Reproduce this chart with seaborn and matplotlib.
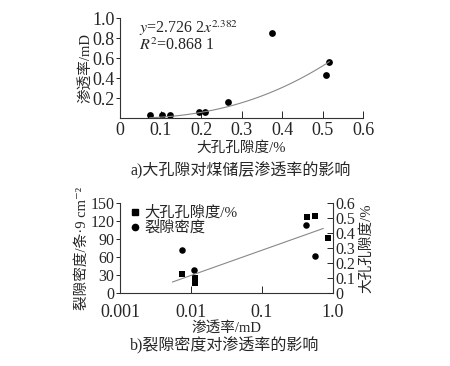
import numpy as np
import pandas as pd
import matplotlib
matplotlib.use("Agg")
import matplotlib.pyplot as plt
import seaborn as sns
from matplotlib.ticker import FixedLocator, FixedFormatter, NullLocator
from matplotlib.lines import Line2D

# ---------- data (a) ----------
macro_porosity_a = [0.073, 0.104, 0.123, 0.195, 0.211, 0.266, 0.376, 0.509, 0.517]
permeability_a = [0.036, 0.036, 0.036, 0.06, 0.06, 0.166, 0.85, 0.433, 0.56]
fit_a_coef = 2.7262
fit_a_exp = 2.382
eq_text = r"$y$=2.726 2$x^{2.382}$"
r2_text = r"$R^2$=0.868 1"

# ---------- data (b) ----------
perm_sq = [0.0074, 0.0114, 0.0114, 0.0114, 0.43, 0.56, 0.86]
porosity_sq = [0.125, 0.10, 0.085, 0.067, 0.505, 0.51, 0.367]
perm_ci = [0.0074, 0.0109, 0.42, 0.56]
density_ci = [72, 38, 113, 62]
trend_b_a = 0.453
trend_b_b = 0.168
trend_b_range = [0.00546, 0.73]

sns.set_theme(style="ticks")
plt.rcParams["font.family"] = ["Liberation Serif", "Noto Sans CJK SC", "DejaVu Serif"]
plt.rcParams["mathtext.fontset"] = "stix"
plt.rcParams["axes.linewidth"] = 0.8
plt.rcParams["axes.edgecolor"] = "#333333"

fs_tick = 13
fs_tick_b = 11.5
fs_lab = 10.5
fs_cap = 11.5

fig = plt.figure(figsize=(4.5, 3.66), dpi=100)

# ---------------- (a) ----------------
ax1 = fig.add_axes([0.2667, 0.6768, 0.54, 0.2732])
dfa = pd.DataFrame({"x": macro_porosity_a, "y": permeability_a})
xs = np.linspace(min(macro_porosity_a), max(macro_porosity_a), 100)
dfit = pd.DataFrame({"x": xs, "y": fit_a_coef * xs ** fit_a_exp})
sns.lineplot(data=dfit, x="x", y="y", ax=ax1, color="#888888", lw=0.8)
sns.scatterplot(data=dfa, x="x", y="y", ax=ax1, color="black", marker="o",
                s=24, edgecolor="black", linewidth=0)
ax1.set_xlim(0, 0.6)
ax1.set_ylim(0, 1.0)
ax1.set_xticks([0, 0.1, 0.2, 0.3, 0.4, 0.5, 0.6])
ax1.set_xticklabels(["0", "0.1", "0.2", "0.3", "0.4", "0.5", "0.6"])
ax1.set_yticks([0.2, 0.4, 0.6, 0.8, 1.0])
ax1.set_yticklabels(["0.2", "0.4", "0.6", "0.8", "1.0"])
ax1.tick_params(axis="x", direction="in", length=5, width=0.7, labelsize=fs_tick, pad=3)
ax1.tick_params(axis="y", direction="out", length=3, width=0.7, labelsize=fs_tick, pad=1)
sns.despine(ax=ax1)
ax1.set_xlabel("大孔孔隙度/%", fontsize=fs_lab, labelpad=1)
ax1.set_ylabel("渗透率/mD", fontsize=fs_lab, labelpad=0)
ax1.text(0.08, 0.90, eq_text, transform=ax1.transAxes, fontsize=fs_tick - 1.5, va="center")
ax1.text(0.08, 0.73, r2_text, transform=ax1.transAxes, fontsize=fs_tick - 1.5, va="center")
fig.text(0.535, 1 - 171 / 366, "a)大孔隙对煤储层渗透率的影响", fontsize=fs_cap,
         ha="center", va="center")

# ---------------- (b) ----------------
ax2 = fig.add_axes([0.2667, 0.1995, 0.4733, 0.246])
ax3 = ax2.twinx()
dfc = pd.DataFrame({"k": perm_ci, "d": density_ci})
dfs = pd.DataFrame({"k": perm_sq, "p": porosity_sq})
sns.scatterplot(data=dfc, x="k", y="d", ax=ax2, color="black", marker="o",
                s=22, linewidth=0)
kk = np.logspace(np.log10(trend_b_range[0]), np.log10(trend_b_range[1]), 50)
dtr = pd.DataFrame({"k": kk, "p": trend_b_a + trend_b_b * np.log10(kk)})
sns.lineplot(data=dtr, x="k", y="p", ax=ax3, color="#888888", lw=0.8)
sns.scatterplot(data=dfs, x="k", y="p", ax=ax3, color="black", marker="s",
                s=22, linewidth=0)
ax2.set_xscale("log")
ax2.set_xlim(0.001, 1.0)
ax2.set_ylim(0, 150)
ax3.set_ylim(0, 0.6)
ax2.xaxis.set_major_locator(FixedLocator([0.001, 0.01, 0.1, 1.0]))
ax2.xaxis.set_major_formatter(FixedFormatter(["0.001", "0.01", "0.1", "1.0"]))
ax2.xaxis.set_minor_locator(NullLocator())
ax2.set_yticks([0, 30, 60, 90, 120, 150])
ax2.set_yticklabels(["0", "30", "60", "90", "120", "150"])
ax3.set_yticks([0, 0.1, 0.2, 0.3, 0.4, 0.5, 0.6])
ax3.set_yticklabels(["0", "0.1", "0.2", "0.3", "0.4", "0.5", "0.6"])
ax2.tick_params(axis="x", direction="in", length=5, width=0.7, labelsize=fs_tick, pad=8)
ax2.tick_params(axis="y", direction="out", length=3, width=0.7, labelsize=fs_tick_b, pad=1)
ax3.tick_params(axis="y", direction="in", length=4, width=0.7, labelsize=fs_tick_b, pad=2)
for a in (ax2, ax3):
    a.spines["top"].set_visible(False)
ax2.spines["right"].set_visible(False)
ax3.spines["left"].set_visible(False)
ax3.spines["bottom"].set_visible(False)
ax2.set_xlabel("渗透率/mD", fontsize=fs_lab, labelpad=0)
ax2.set_ylabel("裂隙密度/条·9 cm⁻²", fontsize=fs_lab, labelpad=1)
ax3.set_ylabel("大孔孔隙度/%", fontsize=fs_lab, rotation=90, labelpad=3)
handles = [Line2D([], [], color="black", marker="s", ls="", markersize=4.5),
           Line2D([], [], color="black", marker="o", ls="", markersize=4.5)]
ax2.legend(handles, ["大孔孔隙度/%", "裂隙密度"], loc="upper left",
           bbox_to_anchor=(0.0, 1.09), frameon=False, fontsize=fs_lab + 0.5,
           handlelength=0.6, handletextpad=0.3, labelspacing=0.05, borderaxespad=0.3)
fig.text(0.5, 1 - 346 / 366, "b)裂隙密度对渗透率的影响", fontsize=fs_cap,
         ha="center", va="center")

fig.savefig("out.png", dpi=100)
